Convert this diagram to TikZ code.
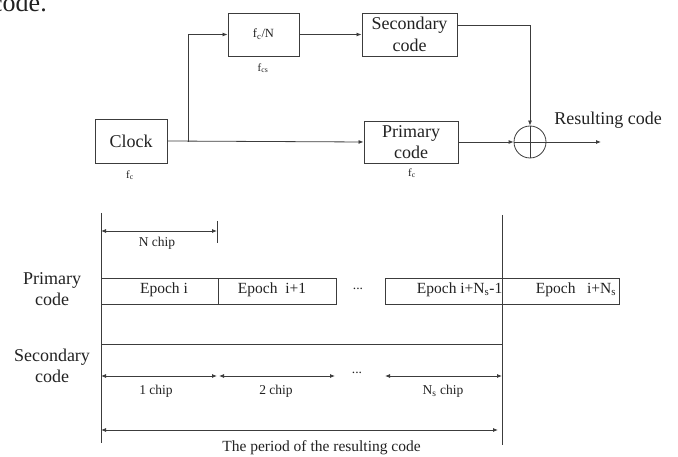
\documentclass[tikz,border=0pt]{standalone}
\usepackage{fontspec}
\setmainfont{Liberation Serif}
\usetikzlibrary{arrows.meta}
\newcommand{\fsz}[1]{\fontsize{#1}{#1*1.2}\selectfont}
\definecolor{lc}{HTML}{3C3C3C}
\definecolor{tc}{HTML}{222222}
\begin{document}
\begin{tikzpicture}[x=1pt,y=-1pt,
  box/.style={draw=lc, line width=0.9pt, inner sep=0pt, align=center, text=tc},
  big/.style={font=\fontsize{18}{21.5}\selectfont, text=tc, align=center, inner sep=0pt},
  mid/.style={font=\fontsize{15.5}{18}\selectfont, text=tc, inner sep=0pt},
  sml/.style={font=\fontsize{13.5}{16}\selectfont, text=tc, inner sep=0pt},
  tiny/.style={font=\fontsize{11}{13}\selectfont, text=tc, inner sep=0pt},
  conn/.style={draw=lc, line width=0.8pt},
  arr/.style={conn, -{Latex[length=5pt,width=4pt]}},
  darr/.style={conn, {Latex[length=5pt,width=4pt]}-{Latex[length=5pt,width=4pt]}},
  epoch/.style={box, minimum height=26pt}
]
\useasboundingbox (0,0) rectangle (678,457);
\begin{scope}
\clip (0,0) rectangle (678,457);
\node[anchor=base west, font=\fontsize{26}{30}\selectfont, text=tc, inner sep=0pt] (cut) at (-9,12) {code.};
\end{scope}

% ---- block diagram ----
\node[box, minimum width=72pt, minimum height=44pt, font=\fontsize{18}{21.5}\selectfont] (clock) at (131,141) {Clock};
\node[box, minimum width=71pt, minimum height=43pt, font=\fontsize{12.5}{15}\selectfont] (div) at (263.5,34.5) {f\textsubscript{c}/N};
\node[box, minimum width=95pt, minimum height=43pt, font=\fontsize{18}{21.5}\selectfont] (sec) at (409.5,34.5) {Secondary\\code};
\node[box, minimum width=94pt, minimum height=42pt, font=\fontsize{18}{21.5}\selectfont] (pri) at (411,142) {Primary\\code};
\node[circle, draw=lc, line width=0.8pt, minimum size=32pt, inner sep=0pt] (sum) at (530,142) {};
\draw[conn] (sum.north) -- (sum.south) (sum.west) -- (sum.east);

\node[tiny] (fcs) at (263,68) {f\textsubscript{cs}};
\node[tiny] (fc1) at (130,175) {f\textsubscript{c}};
\node[tiny] (fc2) at (412,173) {f\textsubscript{c}};

\coordinate (br) at (188,142);
\coordinate (out) at (601,142);
\draw[arr] (clock.east) -- (pri.west);
\draw[arr] (br) |- (div.west);
\draw[arr] (div.east) -- (sec.west);
\draw[arr] ([yshift=9.5pt]sec.east) -| (sum.north);
\draw[arr] (pri.east) -- (sum.west);
\draw[arr] (sum.east) -- (out);
\node[big] (res) at (608,120) {Resulting code};

% ---- timing diagram ----
\coordinate (L0) at (101,213);
\coordinate (L1) at (101,443);
\coordinate (R0) at (502,215);
\coordinate (R1) at (502,445);
\draw[conn] (L0) -- (L1);

\node[big] (plab) at (52,289) {Primary\\code};
\node[big] (slab) at (52,366) {Secondary\\code};

% N chip
\coordinate (nc0) at (101,231);
\coordinate (nc1) at (217,231);
\coordinate (tk0) at (217,221);
\coordinate (tk1) at (217,243);
\draw[darr] (nc0) -- (nc1);
\draw[conn] (tk0) -- (tk1);
\node[sml] (nchip) at (157,243) {N chip};

% epochs
\node[epoch, minimum width=117pt] (e1) at (159.5,291) {};
\node[epoch, minimum width=118pt] (e2) at (277,291) {};
\node[epoch, minimum width=117pt] (e3) at (443.5,291) {};
\node[epoch, minimum width=117pt] (e4) at (560.5,291) {};
\node[mid] (t1) at (164,290) {Epoch i};
\node[mid] (t2) at (272,290) {Epoch\ \ i+1};
\node[mid, anchor=east] (t3) at (502.5,290) {Epoch i+N\textsubscript{s}-1};
\node[mid] (t4) at (576,290) {Epoch\ \ \ i+N\textsubscript{s}};
\node[sml] (dots1) at (358,289) {...};

\draw[conn] (R0) -- (R1);

% secondary
\coordinate (s0) at (101,344);
\coordinate (s1) at (502,344);
\draw[conn] (s0) -- (s1);

\coordinate (c0) at (101,376);
\coordinate (c1) at (217,376);
\coordinate (c2) at (219,376);
\coordinate (c3) at (335,376);
\coordinate (c4) at (385,376);
\coordinate (c5) at (502,376);
\draw[darr] (c0) -- (c1);
\draw[darr] (c2) -- (c3);
\draw[darr] (c4) -- (c5);
\node[sml] (dots2) at (357,373) {...};
\node[sml] (ch1) at (156,391) {1 chip};
\node[sml] (ch2) at (276,391) {2 chip};
\node[sml] (chn) at (443,391) {N\textsubscript{s} chip};

% period
\coordinate (p0) at (101,430);
\coordinate (p1) at (498,430);
\draw[darr] (p0) -- (p1);
\node[mid] (per) at (321.5,448) {The period of the resulting code};
\end{tikzpicture}
\end{document}
